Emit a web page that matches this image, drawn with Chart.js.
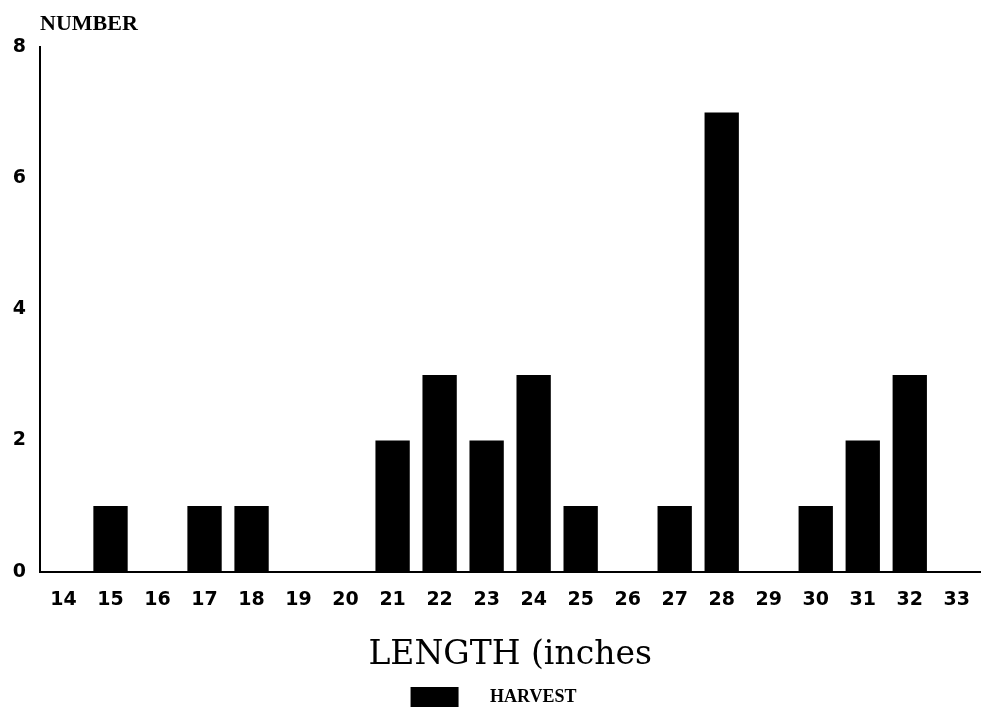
<!DOCTYPE html>
<html>
<head>
<meta charset="utf-8">
<script src="https://cdn.jsdelivr.net/npm/chart.js@4/dist/chart.umd.min.js"></script>
<style>
  html, body { margin: 0; padding: 0; background: #fff; }
  #wrap { width: 987px; height: 717px; }
</style>
</head>
<body>
<div id="wrap"><canvas id="chart" width="987" height="717"></canvas></div>
<script>
// data
const lengths = ['14', '15', '16', '17', '18', '19', '20', '21', '22', '23',
  '24', '25', '26', '27', '28', '29', '30', '31', '32', '33'];
const harvest = [0, 1, 0, 1, 1, 0, 0, 2, 3, 2, 3, 1, 0, 1, 7, 0, 1, 2, 3, 0];
const yTicks = [0, 2, 4, 6, 8];

// "NUMBER" label above the y axis
const yLabel = {
  id: 'yLabel',
  afterDraw(c) {
    const ctx = c.ctx;
    ctx.save();
    ctx.font = 'bold 22px "Liberation Serif"';
    ctx.fillStyle = '#000';
    ctx.textBaseline = 'alphabetic';
    ctx.fillText('NUMBER', c.chartArea.left, 30);
    ctx.restore();
  }
};

new Chart(document.querySelector('#chart').getContext('2d'), {
  type: 'bar',
  data: {
    labels: lengths,
    datasets: [{
      label: 'HARVEST',
      data: harvest,
      backgroundColor: '#000',
      borderWidth: 0,
      barPercentage: 0.73,
      categoryPercentage: 1
    }]
  },
  options: {
    responsive: false,
    animation: false,
    layout: { padding: { top: 47, right: 0, left: 0, bottom: 0 } },
    plugins: {
      tooltip: { enabled: false },
      legend: {
        position: 'bottom',
        labels: {
          boxWidth: 48,
          boxHeight: 20,
          padding: 10,
          color: '#000',
          font: { family: '"Liberation Serif"', size: 18, weight: 'bold' },
          generateLabels(c) {
            const items = Chart.defaults.plugins.legend.labels.generateLabels(c);
            items.forEach(it => { it.text = '     ' + it.text; });
            return items;
          }
        }
      }
    },
    scales: {
      x: {
        grid: { display: false, drawTicks: false },
        border: { color: '#000', width: 2 },
        ticks: {
          color: '#000',
          padding: 17,
          maxRotation: 0,
          autoSkip: false,
          font: { family: '"DejaVu Sans"', size: 19, weight: 'bold' }
        },
        title: {
          display: true,
          text: 'LENGTH (inches',
          color: '#000',
          padding: { top: 7, bottom: 2 },
          font: { family: '"DejaVu Serif"', size: 33 }
        }
      },
      y: {
        min: 0,
        max: 8,
        afterFit(s) { s.width = 40; },
        afterBuildTicks(s) { s.ticks = yTicks.map(v => ({ value: v })); },
        grid: { display: false, drawTicks: false },
        border: { color: '#000', width: 2 },
        ticks: {
          color: '#000',
          padding: 14,
          font: { family: '"DejaVu Sans"', size: 19, weight: 'bold' }
        }
      }
    }
  },
  plugins: [yLabel]
});
</script>
</body>
</html>
